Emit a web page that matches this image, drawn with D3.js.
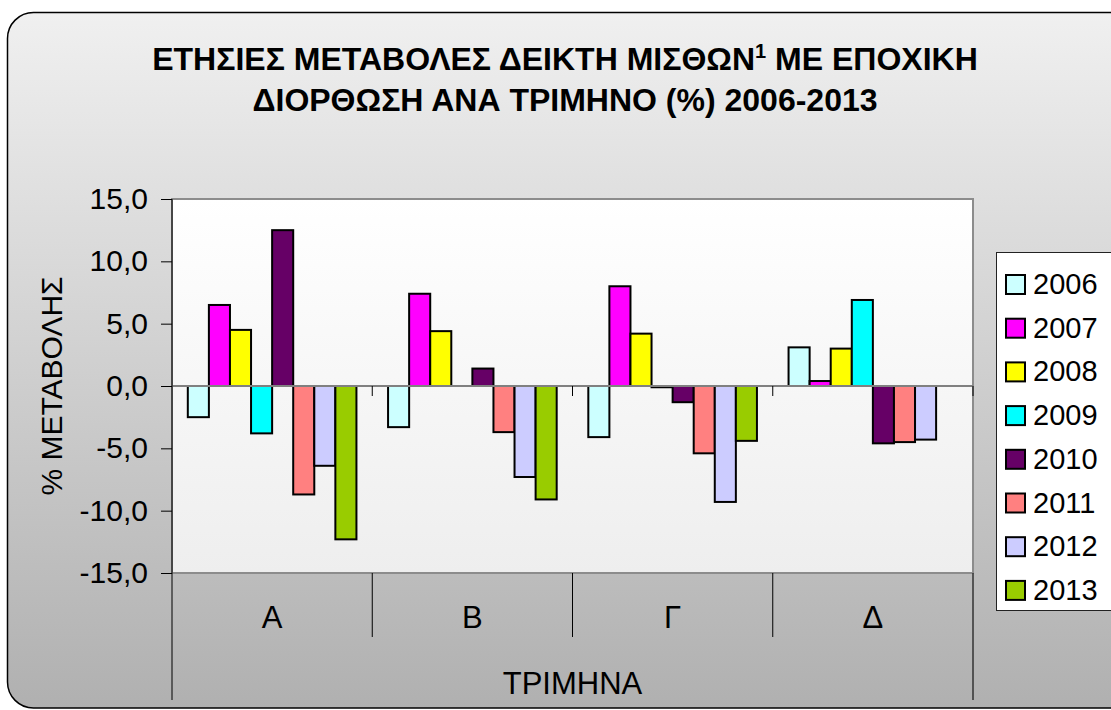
<!DOCTYPE html>
<html>
<head>
<meta charset="utf-8">
<script src="https://cdn.jsdelivr.net/npm/d3@7"></script>
<style>
  html, body { margin: 0; padding: 0; background: #fff; }
  svg { display: block; font-family: "Liberation Sans", Arial, sans-serif; }
</style>
</head>
<body>
<svg id="chart" width="1111" height="710"></svg>
<script>
const quarters = ['Α', 'Β', 'Γ', 'Δ'];
const years = ['2006', '2007', '2008', '2009', '2010', '2011', '2012', '2013'];

// one array per year, values per quarter (% change)
const v2006 = [-2.5, -3.3, -4.1, 3.1];
const v2007 = [6.5, 7.4, 8.0, 0.4];
const v2008 = [4.5, 4.4, 4.2, 3.0];
const v2009 = [-3.8, null, -0.1, 6.9];
const v2010 = [12.5, 1.4, -1.3, -4.6];
const v2011 = [-8.7, -3.7, -5.4, -4.5];
const v2012 = [-6.4, -7.3, -9.3, -4.3];
const v2013 = [-12.3, -9.1, -4.4, null];

const colors = ['#CCFFFF', '#FF00FF', '#FFFF00', '#00FFFF', '#660066', '#FF8080', '#CCCCFF', '#99CC00'];
const yTicks = [-15, -10, -5, 0, 5, 10, 15];

const series = [v2006, v2007, v2008, v2009, v2010, v2011, v2012, v2013];

const svg = d3.select('#chart');
const defs = svg.append('defs');

const bgGrad = defs.append('linearGradient').attr('id', 'bg').attr('x1', 0).attr('y1', 0).attr('x2', 0).attr('y2', 1);
bgGrad.append('stop').attr('offset', '0%').attr('stop-color', '#f0f0f0');
bgGrad.append('stop').attr('offset', '100%').attr('stop-color', '#b0b0b0');

const plotGrad = defs.append('linearGradient').attr('id', 'plotbg').attr('x1', 0).attr('y1', 0).attr('x2', 0).attr('y2', 1);
plotGrad.append('stop').attr('offset', '0%').attr('stop-color', '#ffffff');
plotGrad.append('stop').attr('offset', '100%').attr('stop-color', '#eeeeee');

// chart area
svg.append('rect')
  .attr('x', 7.5).attr('y', 12.5)
  .attr('width', 1140).attr('height', 695.5)
  .attr('rx', 26).attr('ry', 26)
  .attr('fill', 'url(#bg)')
  .attr('stroke', '#000').attr('stroke-width', 1.5);

const pLeft = 172, pRight = 973, pTop = 199, pBottom = 573;

const x0 = d3.scaleBand().domain(quarters).range([pLeft, pRight]).padding(0);
const x1 = d3.scaleBand().domain(years).range([0, x0.bandwidth()]).paddingInner(0).paddingOuter(0.75);
const y = d3.scaleLinear().domain([-15, 15]).range([pBottom, pTop]);

// plot area
svg.append('rect')
  .attr('x', pLeft).attr('y', pTop)
  .attr('width', pRight - pLeft).attr('height', pBottom - pTop)
  .attr('fill', 'url(#plotbg)')
  .attr('stroke', '#8c8c8c').attr('stroke-width', 2);

// bars
const groups = svg.append('g').selectAll('g')
  .data(series)
  .join('g')
  .attr('fill', (d, i) => colors[i]);

groups.selectAll('rect')
  .data((d, i) => d.map((v, j) => ({ year: years[i], q: quarters[j], v: v })).filter(e => e.v !== null))
  .join('rect')
  .attr('x', d => x0(d.q) + x1(d.year))
  .attr('width', x1.bandwidth())
  .attr('y', d => y(Math.max(0, d.v)))
  .attr('height', d => Math.abs(y(d.v) - y(0)))
  .attr('stroke', '#000')
  .attr('stroke-width', 2);

// zero line and its tick marks
svg.append('line')
  .attr('x1', pLeft).attr('x2', pRight)
  .attr('y1', y(0)).attr('y2', y(0))
  .attr('stroke', '#808080').attr('stroke-width', 2);

svg.append('g').selectAll('line')
  .data(quarters.slice(1).concat(['end']))
  .join('line')
  .attr('x1', d => d === 'end' ? pRight : x0(d))
  .attr('x2', d => d === 'end' ? pRight : x0(d))
  .attr('y1', y(0)).attr('y2', y(0) + 10)
  .attr('stroke', '#000').attr('stroke-width', 1);

// y axis
const gr = d3.formatLocale({ decimal: ',', thousands: '.', grouping: [3], currency: ['', '€'], minus: '-' });
const yAxis = d3.axisLeft(y)
  .tickValues(yTicks)
  .tickFormat(gr.format('.1f'))
  .tickSize(11)
  .tickPadding(13);

const yg = svg.append('g')
  .attr('transform', `translate(${pLeft},0)`)
  .call(yAxis);
yg.select('.domain').remove();
yg.selectAll('text')
  .attr('font-size', 30)
  .attr('font-family', '"Liberation Sans", Arial, sans-serif')
  .attr('fill', '#000');
yg.selectAll('line').attr('stroke', '#000');

svg.append('line')
  .attr('x1', pLeft).attr('x2', pLeft)
  .attr('y1', pTop).attr('y2', 700)
  .attr('stroke', '#000').attr('stroke-width', 1);

// category axis (two levels)
svg.append('line')
  .attr('x1', pRight).attr('x2', pRight)
  .attr('y1', pBottom).attr('y2', 700)
  .attr('stroke', '#333').attr('stroke-width', 1.5);

svg.append('g').selectAll('line')
  .data(quarters.slice(1))
  .join('line')
  .attr('x1', d => x0(d)).attr('x2', d => x0(d))
  .attr('y1', pBottom).attr('y2', 637)
  .attr('stroke', '#000').attr('stroke-width', 1);

svg.append('g').selectAll('text')
  .data(quarters)
  .join('text')
  .attr('x', d => x0(d) + x0.bandwidth() / 2)
  .attr('y', 628)
  .attr('text-anchor', 'middle')
  .attr('font-size', 31)
  .text(d => d);

svg.append('text')
  .attr('x', (pLeft + pRight) / 2)
  .attr('y', 694)
  .attr('text-anchor', 'middle')
  .attr('font-size', 31)
  .text('ΤΡΙΜΗΝΑ');

svg.append('text')
  .attr('transform', `translate(62,${(pTop + pBottom) / 2}) rotate(-90)`)
  .attr('text-anchor', 'middle')
  .attr('font-size', 30)
  .text('% ΜΕΤΑΒΟΛΗΣ');

// title
const t1 = svg.append('text')
  .attr('x', 565).attr('y', 70)
  .attr('text-anchor', 'middle')
  .attr('font-size', 32).attr('font-weight', 'bold');
t1.append('tspan').text('ΕΤΗΣΙΕΣ ΜΕΤΑΒΟΛΕΣ ΔΕΙΚΤΗ ΜΙΣΘΩΝ');
t1.append('tspan').attr('font-size', 20).attr('dy', -12).text('1');
t1.append('tspan').attr('dy', 12).text(' ΜΕ ΕΠΟΧΙΚΗ');

svg.append('text')
  .attr('x', 565).attr('y', 111)
  .attr('text-anchor', 'middle')
  .attr('font-size', 32).attr('font-weight', 'bold')
  .text('ΔΙΟΡΘΩΣΗ ΑΝΑ ΤΡΙΜΗΝΟ (%) 2006-2013');

// legend
svg.append('rect')
  .attr('x', 996.5).attr('y', 252.5)
  .attr('width', 130).attr('height', 358)
  .attr('fill', '#fff')
  .attr('stroke', '#222').attr('stroke-width', 1);

const leg = svg.append('g').selectAll('g')
  .data(years)
  .join('g')
  .attr('transform', (d, i) => `translate(1005,${284 + i * 43.7})`);

leg.append('rect')
  .attr('x', 1).attr('y', -9)
  .attr('width', 19).attr('height', 19)
  .attr('fill', (d, i) => colors[i])
  .attr('stroke', '#000').attr('stroke-width', 2);

leg.append('text')
  .attr('x', 28).attr('y', 10)
  .attr('font-size', 29)
  .text(d => d);
</script>
</body>
</html>
